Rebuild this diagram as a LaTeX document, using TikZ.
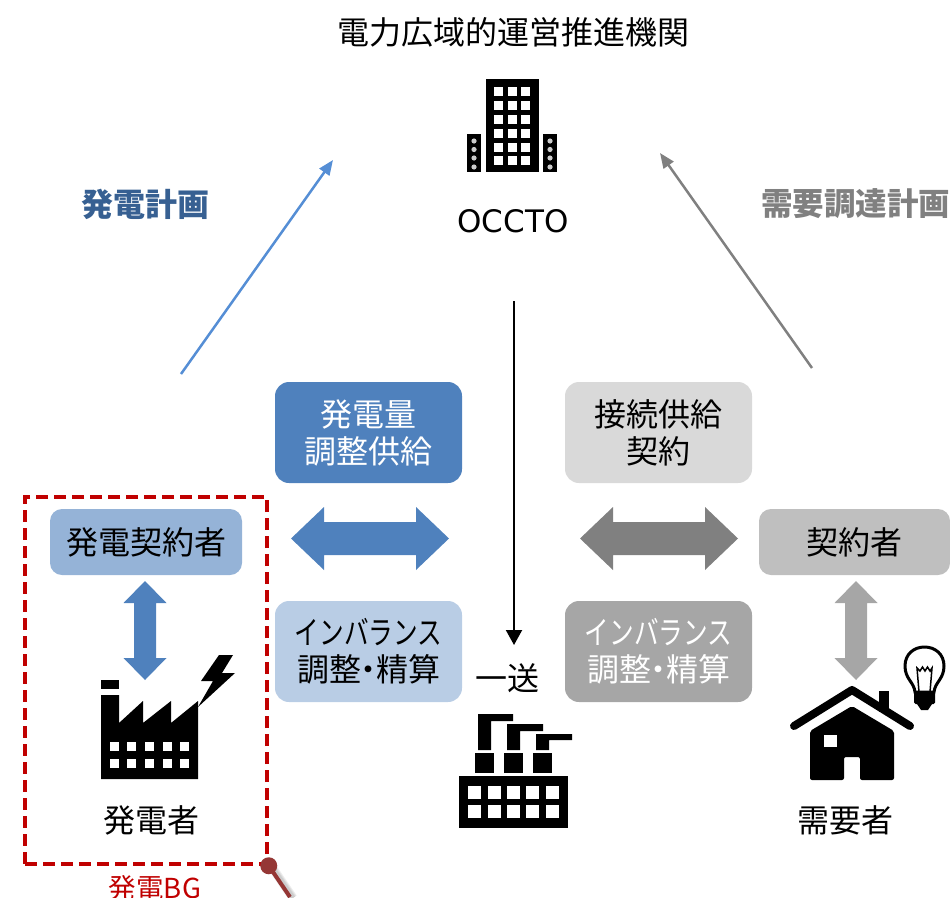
\documentclass[tikz,border=0pt]{standalone}
\usepackage{fontspec}
\setmainfont{Noto Sans CJK JP}
\newfontfamily\latinfont{DejaVu Sans}
\usetikzlibrary{arrows.meta}
\definecolor{boxblue}{HTML}{4F81BD}
\definecolor{paleblue}{HTML}{B9CDE5}
\definecolor{midblue}{HTML}{95B3D7}
\definecolor{arrowblue}{HTML}{558ED5}
\definecolor{textblue}{HTML}{376092}
\definecolor{bgred}{HTML}{C00000}
\definecolor{dotred}{HTML}{953735}
\newcommand{\kana}[1]{\scalebox{0.77}[1]{#1}}
\newcommand{\nakaguro}{\hspace{-8.5pt}・\hspace{-8.5pt}}
\newcommand{\hdblarrow}[3]{% left x, right x, colour ; y fixed
  \fill[#3] (#1,538.5) -- (#1+33,507) -- (#1+33,522) -- (#2-33,522) -- (#2-33,507) -- (#2,538.5) -- (#2-33,570) -- (#2-33,555) -- (#1+33,555) -- (#1+33,570) -- cycle;}
\newcommand{\vdblarrow}[2]{% centre x, colour
  \fill[#2] (#1,581) -- (#1+21.5,603) -- (#1+11,603) -- (#1+11,658) -- (#1+21.5,658) -- (#1,680) -- (#1-21.5,658) -- (#1-11,658) -- (#1-11,603) -- (#1-21.5,603) -- cycle;}
\tikzset{
  txt/.style={inner sep=0pt,font=\fontsize{32}{37}\selectfont,align=center},
  headtxt/.style={txt,font=\fontsize{32}{37}\selectfont\bfseries},
  tag/.style={txt,rounded corners=14pt,minimum width=187pt,minimum height=101pt},
  smalltag/.style={txt,rounded corners=12pt,minimum width=192pt,minimum height=66pt},
  flow/.style={line width=2.5pt,-{Triangle[length=15pt,width=12pt]}},
}
\begin{document}
\begin{tikzpicture}[x=1pt,y=-1pt]
\useasboundingbox (0,0) rectangle (950,897);
% titles
\node[txt] (title) at (513,32) {電力広域的運営推進機関};
\node[txt,font=\fontsize{31}{36}\selectfont\latinfont] (occto) at (513,221) {OCCTO};
\node[headtxt,text=textblue] (planL) at (145,204) {発電計画};
\node[headtxt,font=\fontsize{31.5}{37}\selectfont\bfseries,text=black!50] (planR) at (855.5,204) {需要調達計画};
% arrows
\coordinate (a1s) at (181,374); \coordinate (a1e) at (333,160);
\coordinate (a2s) at (812,368); \coordinate (a2e) at (660,153);
\coordinate (a3s) at (514,301); \coordinate (a3e) at (514,645);
\draw[flow,arrowblue] (a1s) -- (a1e);
\draw[flow,black!50] (a2s) -- (a2e);
\draw[line width=2pt,-{Triangle[length=15pt,width=16pt]},black] (a3s) -- (a3e);
% boxes
\node[tag,fill=boxblue,text=white] (b1) at (368.5,432.5) {発電量\\調整供給};
\node[tag,fill=black!15] (b2) at (658.5,432.5) {接続供給\\契約};
\node[tag,fill=paleblue] (b3) at (368.5,651.5) {\kana{インバランス}\\調整\nakaguro 精算};
\node[tag,fill=black!35,text=white] (b4) at (658.5,651.5) {\kana{インバランス}\\調整\nakaguro 精算};
\node[smalltag,fill=midblue] (b5) at (146,542) {発電契約者};
\node[smalltag,fill=black!25,minimum width=191pt] (b6) at (854.5,542) {契約者};
% block arrows
\hdblarrow{291}{449}{boxblue}
\hdblarrow{580}{738}{black!50}
\vdblarrow{145}{boxblue}
\vdblarrow{856}{black!35}
% labels
\node[txt] (gen) at (151,820) {発電者};
\node[txt] (dem) at (845,820) {需要者};
\node[txt] (tso) at (507,678) {一送};
% building
\fill (486,79) rectangle (539,172);
\foreach \x in {494,507.5,521}
  \foreach \y in {87,101,115,129,142.5,156}
    \fill[white] (\x,\y) rectangle ++(9,9);
\fill (467,134) rectangle (481,172);
\fill (543,134) rectangle (557,172);
\foreach \x in {474,550}
  \foreach \y in {141,149.5,158,167}
    \fill[black!20] (\x,\y) circle (2.6);
% generator factory
\fill (101,680) rectangle (119,689);
\fill (101,695) -- (119,695) -- (119,723) -- (143,701) -- (143,723) -- (171,701) -- (171,723) -- (198,701) -- (198,779) -- (101,779) -- cycle;
\foreach \x in {110,127,145,163,180}
  \foreach \y in {742,759}
    \fill[white] (\x,\y) rectangle ++(9,9);
\fill (219,655) -- (233,655) -- (222,673) -- (235,673) -- (198,707) -- (213,681) -- (201,681) -- cycle;
% central plant
\fill (478,714) -- (513,714) -- (513,721) -- (491,721) -- (491,750) -- (478,750) -- cycle;
\fill (507,724) -- (543,724) -- (543,731) -- (520,731) -- (520,750) -- (507,750) -- cycle;
\fill (536,734) -- (572,734) -- (572,740) -- (549,740) -- (549,750) -- (536,750) -- cycle;
\foreach \x in {475,504,533}
  \fill (\x,753) rectangle ++(19,20);
\fill (459,776) rectangle (568,828);
\foreach \x in {468,488,507,526,546}
  \foreach \y in {786,805}
    \fill[white] (\x,\y) rectangle ++(13,13);
% house
\draw[line width=8pt,line cap=round,line join=round] (794,726) -- (852,690) -- (910,726);
\fill (879,691) rectangle (889,712);
\fill[rounded corners=2pt] (852,706) -- (894,731) -- (894,780) -- (860,780) -- (860,757) -- (844,757) -- (844,780) -- (810,780) -- (810,731) -- cycle;
\fill[white] (824,735) rectangle (837,747);
% bulb
\draw[line width=3pt] (915,692) .. controls (914,682) and (905,679) .. (905,666) .. controls (905,654) and (914,647) .. (924.5,647) .. controls (935,647) and (944,654) .. (944,666) .. controls (944,679) and (935,682) .. (934,692) -- cycle;
\draw[line width=1.5pt] (919,692) -- (917,668) -- (920,671) -- (922.5,667) -- (925,671) -- (927.5,667) -- (930,671) -- (932,668) -- (930,692);
\fill[rounded corners=1.5pt] (914,691) rectangle (935,704);
\fill (917,704) -- (932,704) -- (928,710) -- (921,710) -- cycle;
% BG frame
\node[draw=bgred,line width=3.5pt,dash pattern=on 12pt off 6pt,minimum width=242pt,minimum height=367pt,inner sep=0pt] (frame) at (146,680.5) {};
\node[txt,font=\fontsize{27.5}{32}\selectfont,text=bgred] (bg) at (155,888) {発電BG};
\coordinate (pin) at (290,897);
\begin{scope}
\clip (0,0) rectangle (950,897);
\foreach \w in {9,7,5}
  \draw[line width=\w pt,black,opacity=.07] ([shift={(3,1)}]frame.south east) -- ([shift={(3,1)}]pin);
\draw[line width=4pt,dotred] (frame.south east) -- (pin);
\end{scope}
\node[circle,fill=dotred,minimum size=17pt,inner sep=0pt] (dot) at (frame.south east) {};
\end{tikzpicture}
\end{document}
